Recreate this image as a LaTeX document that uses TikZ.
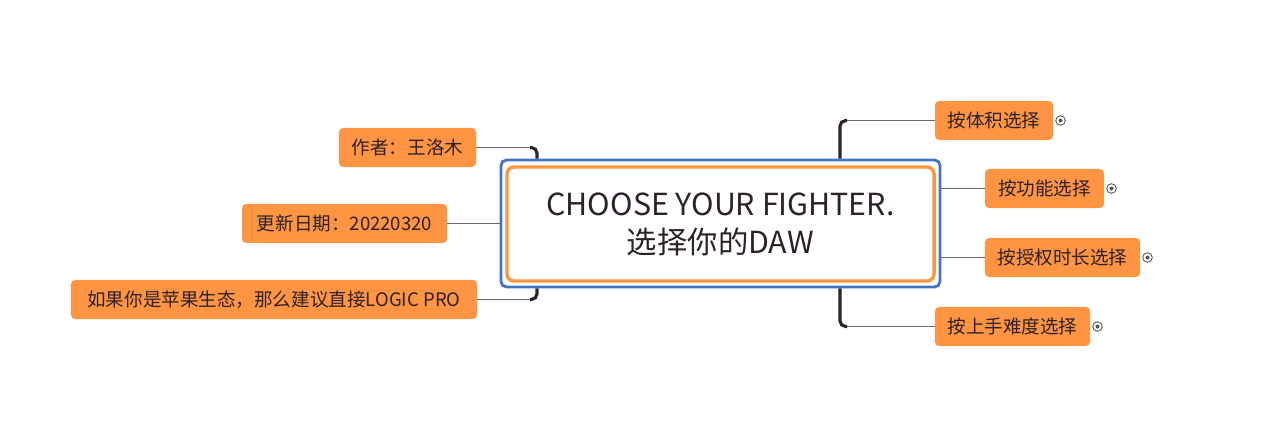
\documentclass[tikz,border=0pt]{standalone}
\usepackage{fontspec}
\setmainfont{Noto Sans CJK SC}
\usetikzlibrary{positioning}
\definecolor{leaf}{RGB}{255,148,66}
\definecolor{frame}{RGB}{68,114,196}
\definecolor{ink}{RGB}{45,34,42}
\definecolor{twiggray}{RGB}{105,100,112}
\tikzset{
  topic/.style={rectangle,rounded corners=3pt,fill=leaf,text=ink,inner sep=0pt,
    minimum height=0.975cm,font=\fontsize{13.2}{16}\selectfont},
  stem/.style={ink,line width=2.2pt,rounded corners=4pt},
  twig/.style={twiggray,line width=0.9pt},
  foldmark/.style={circle,draw=twiggray!80!black,line width=0.6pt,inner sep=0pt,minimum size=0.24cm}
}
\begin{document}
\begin{tikzpicture}[x=0.025cm,y=-0.025cm]
  \useasboundingbox (0,0) rectangle (1280,421);
  % central topic
  \node[draw=frame,line width=2pt,rounded corners=4pt,minimum width=10.975cm,minimum height=3.175cm] (sel) at (720.5,223.5) {};
  \node[draw=leaf,fill=white,line width=2.4pt,rounded corners=5pt,minimum width=10.675cm,minimum height=2.85cm,
        align=center,text=ink,font=\fontsize{21.6}{27}\selectfont] (root) at (720.5,224) {CHOOSE YOUR FIGHTER.\\选择你的DAW};
  % right side
  \node[topic,minimum width=2.95cm] (b1) at (994,120.5) {按体积选择};
  \node[topic,minimum width=2.975cm] (b2) at (1044.5,188.5) {按功能选择};
  \node[topic,minimum width=3.875cm] (b3) at (1062.5,257.5) {按授权时长选择};
  \node[topic,minimum width=3.875cm] (b4) at (1012.5,326.5) {按上手难度选择};
  \foreach \b in {b1,b2,b3,b4}{
    \node[foldmark,right=1.4pt of \b] (\b m) {};
    \fill[twiggray!80!black] (\b m.center) circle (0.05cm);
  }
  % left side
  \node[topic,minimum width=3.425cm] (a1) at (407.5,147.5) {作者：王洛木};
  \node[topic,minimum width=5.125cm] (a2) at (344.5,223.5) {更新日期：20220320};
  \node[topic,minimum width=10.15cm] (a3) at (274,299.5) {如果你是苹果生态，那么建议直接LOGIC PRO};
  % connectors
  \coordinate (k1) at (847,120.5);
  \coordinate (k4) at (847,326.5);
  \coordinate (j1) at (530,147.5);
  \coordinate (j3) at (530,299.5);
  \draw[stem] (sel.north -| 840,0) |- (k1);
  \draw[twig] (k1) -- (b1.west);
  \draw[stem] (sel.south -| 840,0) |- (k4);
  \draw[twig] (k4) -- (b4.west);
  \draw[twig] (sel.east |- b2) -- (b2.west);
  \draw[twig] (sel.east |- b3) -- (b3.west);
  \draw[twig] (a1.east) -- (j1);
  \draw[stem] (j1) -| (sel.north -| 537,0);
  \draw[twig] (a2.east) -- (sel.west |- a2);
  \draw[twig] (a3.east) -- (j3);
  \draw[stem] (j3) -| (sel.south -| 537,0);
\end{tikzpicture}
\end{document}
